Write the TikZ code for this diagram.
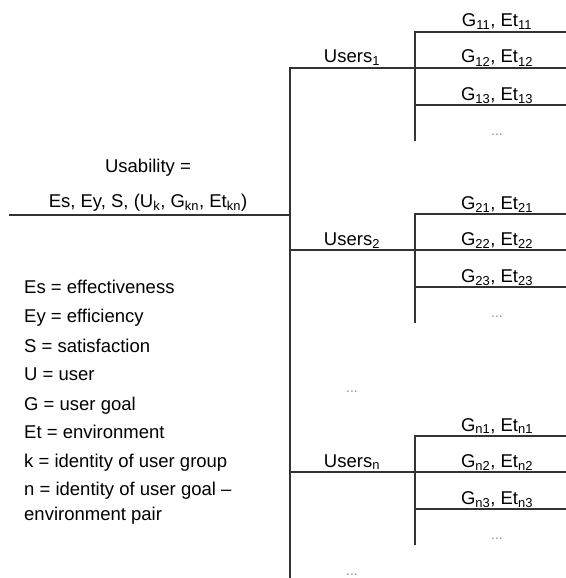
\documentclass[tikz,border=0pt]{standalone}
\usepackage{fontspec}
\setmainfont{Liberation Sans}
\usetikzlibrary{positioning}

\tikzset{
    branch/.style={line width=1.6pt, black!80, line cap=rect},
    label/.style={anchor=base, inner sep=0pt},
    more/.style={text=black!45, font=\fontsize{14}{16}\selectfont},
    legend/.style={anchor=base west, inner sep=0pt},
}

\begin{document}
\begin{tikzpicture}[x=1pt, y=-1pt, font=\fontsize{18.5}{22}\selectfont]
    \useasboundingbox (0,0) rectangle (565,578);

    % Define the positions of the trunk
    \coordinate (root) at (10,215);
    \coordinate (hub) at (290,215);
    \coordinate (trunkTop) at (290,68);
    \coordinate (trunkBot) at (290,578);

    % Draw the trunk
    \draw[branch, line width=2pt] (root) -- (hub);
    \draw[branch, line width=2pt] (trunkTop) -- (trunkBot);

    % Formula above the main line
    \node[label] (usability) at (148,172) {Usability =};
    \node[label] (formula) at (148,207) {Es, Ey, S, (U\textsubscript{k}, G\textsubscript{kn}, Et\textsubscript{kn})};

    % User groups with their goal - environment pairs
    \foreach \k/\yk in {1/68, 2/250, n/472} {
        \coordinate (u\k) at (290,\yk);
        \coordinate (g\k) at (415,\yk);
        \draw[branch] (u\k) -- (g\k);
        \node[label] (users\k) at (352,\yk-5) {Users\textsubscript{\k}};
        \coordinate (top\k) at (415,\yk-36);
        \coordinate (bot\k) at (415,\yk+72);
        \draw[branch] (top\k) -- (bot\k);
        \foreach \j/\dy in {1/-36, 2/0, 3/37} {
            \coordinate (p\k\j) at (415,\yk+\dy);
            \coordinate (q\k\j) at (565,\yk+\dy);
            \draw[branch] (p\k\j) -- (q\k\j);
            \node[label] (pair\k\j) at (497,\yk+\dy-5) {G\textsubscript{\k\j}, Et\textsubscript{\k\j}};
        }
        \node[more] (more\k) at (497,\yk+67) {...};
    }

    % More user groups along the trunk
    \node[more] (moreUsers) at (352,392) {...};
    \node[more] (moreUsersEnd) at (352,575) {...};

    % Legend
    \node[legend] (lEs) at (24,293) {Es = effectiveness};
    \node[legend] (lEy) at (24,322) {Ey = efficiency};
    \node[legend] (lS) at (24,352) {S = satisfaction};
    \node[legend] (lU) at (24,380) {U = user};
    \node[legend] (lG) at (24,410) {G = user goal};
    \node[legend] (lEt) at (24,438) {Et = environment};
    \node[legend] (lk) at (24,467) {k = identity of user group};
    \node[legend] (ln) at (24,495) {n = identity of user goal --};
    \node[legend] (lpair) at (24,520) {environment pair};
\end{tikzpicture}
\end{document}
